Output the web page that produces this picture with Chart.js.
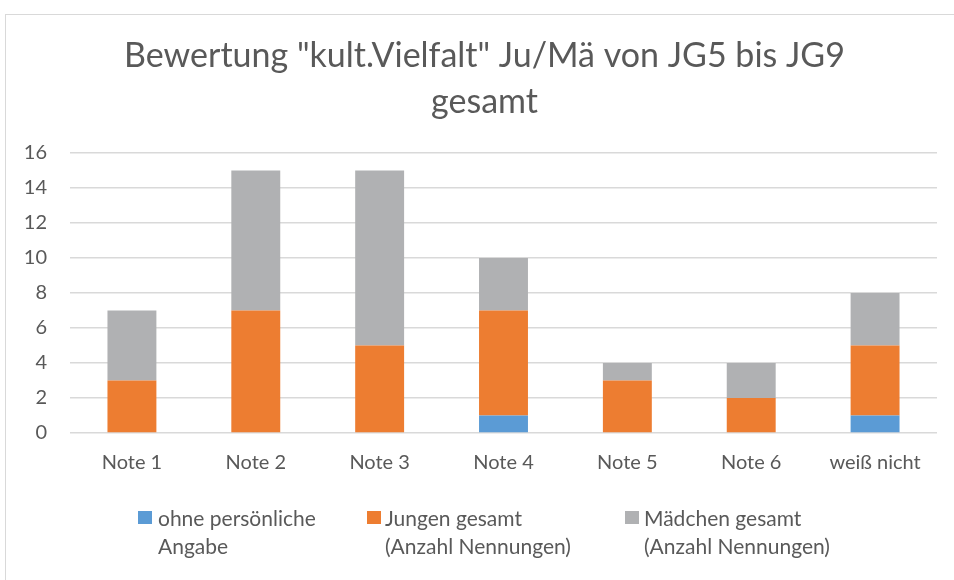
<!DOCTYPE html>
<html>
<head>
<meta charset="utf-8">
<script src="https://cdn.jsdelivr.net/npm/chart.js@4.4.1/dist/chart.umd.min.js"></script>
<style>
    html, body { margin: 0; padding: 0; background: #fff; overflow: hidden; }
    #wrap { position: relative; width: 954px; height: 580px; }
    #frame { position: absolute; left: 5px; top: 14px; width: 980px; height: 600px; border: 1px solid #d9d9d9; box-sizing: border-box; }
    canvas { position: absolute; left: 0; top: 0; }
    .leg { position: absolute; top: 504px; font-family: Lato, sans-serif; font-size: 21px; line-height: 28px; color: #595959; white-space: nowrap; }
    .sq { position: absolute; top: 511px; width: 14px; height: 13px; }
</style>
</head>
<body>
<div id="wrap">
    <div id="frame"></div>
    <canvas id="chart" width="954" height="580"></canvas>
    <span class="sq" style="left:138px;background:#5B9BD5"></span>
    <div class="leg" style="left:158px">ohne persönliche<br>Angabe</div>
    <span class="sq" style="left:367px;background:#ED7D31"></span>
    <div class="leg" style="left:385px">Jungen gesamt<br>(Anzahl Nennungen)</div>
    <span class="sq" style="left:625px;background:#B0B1B3"></span>
    <div class="leg" style="left:644px">Mädchen gesamt<br>(Anzahl Nennungen)</div>
</div>
<script>
// Daten
const kategorien = ['Note 1', 'Note 2', 'Note 3', 'Note 4', 'Note 5', 'Note 6', 'weiß nicht'];
const ohneAngabe = [0, 0, 0, 1, 0, 0, 1];
const jungen = [3, 7, 5, 6, 3, 2, 4];
const maedchen = [4, 8, 10, 3, 1, 2, 3];
const titelZeilen = ['Bewertung "kult.Vielfalt" Ju/Mä von JG5 bis JG9', 'gesamt'];

const textFarbe = '#595959';
const schrift = 'Lato, sans-serif';

// Titel etwas nach rechts schieben (wie im Original)
const titelVersatz = {
    id: 'titelVersatz',
    afterLayout(chart) {
        if (chart.titleBlock) {
            chart.titleBlock.left += 16;
            chart.titleBlock.right += 16;
        }
    }
};

const ctx = document.getElementById('chart').getContext('2d');

new Chart(ctx, {
    type: 'bar',
    data: {
        labels: kategorien,
        datasets: [
            { label: 'ohne persönliche Angabe', data: ohneAngabe, backgroundColor: '#5B9BD5' },
            { label: 'Jungen gesamt (Anzahl Nennungen)', data: jungen, backgroundColor: '#ED7D31' },
            { label: 'Mädchen gesamt (Anzahl Nennungen)', data: maedchen, backgroundColor: '#B0B1B3' }
        ]
    },
    options: {
        responsive: false,
        animation: false,
        devicePixelRatio: 1,
        layout: { padding: { left: 0, right: 17, top: 0, bottom: 0 } },
        datasets: {
            bar: { categoryPercentage: 1, barPercentage: 0.395, borderWidth: 0 }
        },
        plugins: {
            legend: { display: false },
            tooltip: { enabled: false },
            title: {
                display: true,
                text: titelZeilen,
                color: textFarbe,
                font: { family: schrift, size: 34, weight: 'normal', lineHeight: 1.353 },
                padding: { top: 33, bottom: 28 }
            }
        },
        scales: {
            x: {
                stacked: true,
                grid: { display: false, drawTicks: false },
                border: { display: false },
                ticks: { color: textFarbe, font: { family: schrift, size: 20 }, padding: 18, maxRotation: 0 },
                afterFit: function(scale) { scale.height = 147; }
            },
            y: {
                stacked: true,
                min: 0,
                max: 16,
                grid: { color: '#d9d9d9', lineWidth: 1.5, drawTicks: false },
                border: { display: false },
                ticks: { stepSize: 2, color: textFarbe, font: { family: schrift, size: 20 }, padding: 23 },
                afterFit: function(scale) { scale.width = 70; }
            }
        }
    },
    plugins: [titelVersatz]
});
</script>
</body>
</html>
